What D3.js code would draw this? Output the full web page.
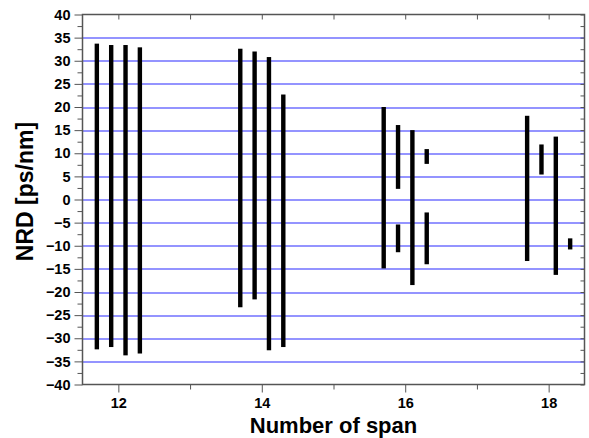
<!DOCTYPE html>
<html>
<head>
<meta charset="utf-8">
<script src="https://cdn.jsdelivr.net/npm/d3@7"></script>
<style>
	body { margin: 0; background: #fff; }
	svg text { font-family: "Liberation Sans", Arial, sans-serif; font-weight: bold; }
</style>
</head>
<body>
<svg id="chart" width="589" height="438"></svg>
<script>

// one entry per vertical segment
var spanX     = [ 11.7, 11.9, 12.1, 12.3,  13.7, 13.9, 14.1, 14.3,  15.7, 15.9, 15.9, 16.1, 16.3, 16.3,  17.7, 17.9, 18.1, 18.3 ];
var nrdTop    = [ 33.7, 33.4, 33.4, 32.9,  32.6, 32.0, 30.8, 22.7,  20.0, 16.1, -5.4, 15.0, 10.9, -2.8,  18.1, 11.9, 13.6, -8.4 ];
var nrdBottom = [ -32.4, -31.9, -33.7, -33.3,  -23.3, -21.6, -32.6, -31.9,  -14.9, 2.3, -11.4, -18.5, 7.7, -14.0,  -13.3, 5.4, -16.3, -10.8 ];

var xTicks = [ 12, 14, 16, 18 ];
var xMinor = [ 13, 15, 17 ];
var yTicks = d3.range(-40, 41, 5);
var yMinor = d3.range(-37.5, 40, 5);
var gridVals = d3.range(-35, 36, 5);

var margin = {
	top: 14.5,
	right: 4.5,
	bottom: 53.5,
	left: 82.5
};

var svg = d3.select("#chart");
var width = 589 - margin.left - margin.right;
var height = 438 - margin.top - margin.bottom;

var x = d3.scaleLinear().domain([ 11.5, 18.5 ]).range([ 0, width ]);
var y = d3.scaleLinear().domain([ -40, 40 ]).range([ height, 0 ]);

var g = svg.append("g")
	.attr("transform", `translate(${margin.left},${margin.top})`);

// blue grid
g.selectAll(".grid")
	.data(gridVals)
	.join("line")
	.attr("class", "grid")
	.attr("x1", 0)
	.attr("x2", width)
	.attr("y1", d => Math.round(y(d)) + 0.5)
	.attr("y2", d => Math.round(y(d)) + 0.5)
	.attr("stroke", "#2a2aff")
	.attr("stroke-width", 1.2);

// bars
g.selectAll(".seg")
	.data(spanX)
	.join("rect")
	.attr("class", "seg")
	.attr("x", d => x(d) - 2.2)
	.attr("width", 4.4)
	.attr("y", (d, i) => y(nrdTop[i]))
	.attr("height", (d, i) => y(nrdBottom[i]) - y(nrdTop[i]))
	.attr("fill", "#000");

function styleAxis(sel)	{
	sel.attr("font-family", null).attr("font-size", null);
	sel.select(".domain").remove();
	sel.selectAll("line").attr("stroke", "#555");
	sel.selectAll("text")
		.attr("fill", "#000")
		.style("font-size", "14.5px");
}

// left axis
g.append("g")
	.call(d3.axisLeft(y).tickValues(yTicks).tickSize(8).tickPadding(4).tickFormat(d3.format("d")))
	.call(styleAxis);

g.append("g")
	.call(d3.axisLeft(y).tickValues(yMinor).tickSize(5).tickFormat(""))
	.call(styleAxis);

// right axis, ticks inward
g.append("g")
	.attr("transform", `translate(${width},0)`)
	.call(d3.axisLeft(y).tickValues(yMinor.concat(yTicks)).tickSize(4).tickFormat(""))
	.call(styleAxis);

// bottom axis
g.append("g")
	.attr("transform", `translate(0,${height})`)
	.call(d3.axisBottom(x).tickValues(xTicks).tickSize(8).tickPadding(5).tickFormat(d3.format("d")))
	.call(styleAxis);

g.append("g")
	.attr("transform", `translate(0,${height})`)
	.call(d3.axisBottom(x).tickValues(xMinor).tickSize(5).tickFormat(""))
	.call(styleAxis);

// top axis, ticks inward
g.append("g")
	.call(d3.axisBottom(x).tickValues(xTicks.concat(xMinor)).tickSize(5).tickFormat(""))
	.call(styleAxis);

// frame
g.append("rect")
	.attr("width", width)
	.attr("height", height)
	.attr("fill", "none")
	.attr("stroke", "#555")
	.attr("stroke-width", 1.5);

// titles
svg.append("text")
	.attr("x", margin.left + width / 2)
	.attr("y", 433)
	.attr("text-anchor", "middle")
	.style("font-size", "22px")
	.text("Number of span");

svg.append("text")
	.attr("transform", `translate(33,${margin.top + height / 2 - 8}) rotate(-90)`)
	.attr("text-anchor", "middle")
	.style("font-size", "23px")
	.text("NRD [ps/nm]");

</script>
</body>
</html>
